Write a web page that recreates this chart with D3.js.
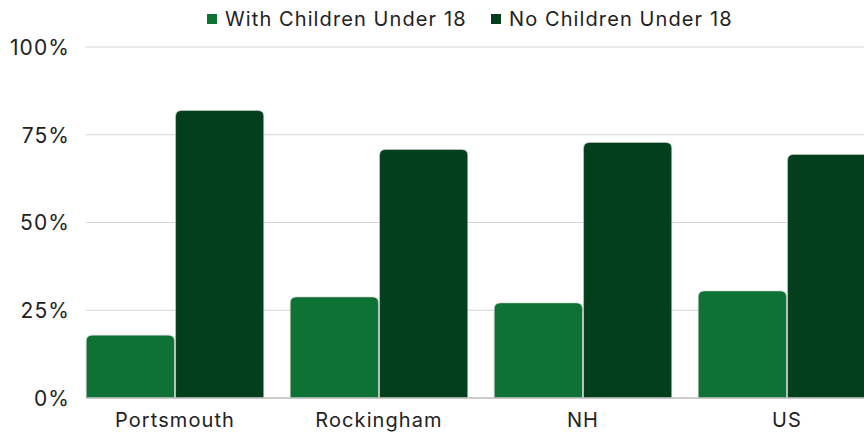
<!DOCTYPE html>
<html>
<head>
<meta charset="utf-8">
<script src="https://cdn.jsdelivr.net/npm/d3@7"></script>
<style>
  body { margin: 0; background: #fff; }
  svg text { font-family: "Inter", "Open Sans", sans-serif; fill: #222; letter-spacing: 1.1px; }
</style>
</head>
<body>
<svg id="chart" width="864" height="434"></svg>
<script>
// ---- data ----
var categories = ["Portsmouth", "Rockingham", "NH", "US"];
var seriesNames = ["With Children Under 18", "No Children Under 18"];
var withChildren = [17.9, 28.8, 27.1, 30.5];
var noChildren = [81.9, 70.8, 72.8, 69.4];
var yTicks = [0, 25, 50, 75, 100];
var colors = ["#0e7235", "#043f1d"];

var svg = d3.select("#chart"),
    width = +svg.attr("width"),
    height = +svg.attr("height");

var rows = categories.map(function (c, i) {
  return { cat: c, values: [withChildren[i], noChildren[i]] };
});

var y = d3.scaleLinear().domain([0, 100]).range([398, 47]);

var x0 = d3.scaleBand()
    .domain(categories)
    .range([73, 889])
    .paddingInner(0.13)
    .paddingOuter(0.065);

var x1 = d3.scaleBand()
    .domain(d3.range(seriesNames.length))
    .range([0, x0.bandwidth()])
    .paddingInner(0.012);

// gridlines
svg.append("g")
  .selectAll("line")
  .data(yTicks.filter(function (d) { return d > 0; }))
  .join("line")
    .attr("x1", 86).attr("x2", width)
    .attr("y1", function (d) { return y(d); })
    .attr("y2", function (d) { return y(d); })
    .attr("stroke", "#d4d4d4")
    .attr("stroke-width", 1);

// y axis labels
var yAxis = d3.axisLeft(y)
    .tickValues(yTicks)
    .tickFormat(function (d) { return d + "%"; })
    .tickSize(0)
    .tickPadding(0);

svg.append("g")
    .attr("transform", "translate(70,0)")
    .call(yAxis)
    .call(function (g) { g.select(".domain").remove(); })
    .selectAll("text")
      .attr("font-size", 21)
      .attr("dy", "0.35em")
      .style("font-family", "Inter, 'Open Sans', sans-serif")
      .attr("fill", "#222");

// rounded-top bar path
function barPath(x, yTop, w, h, r) {
  r = Math.min(r, h, w / 2);
  return "M" + x + "," + (yTop + h) +
    "V" + (yTop + r) +
    "Q" + x + "," + yTop + " " + (x + r) + "," + yTop +
    "H" + (x + w - r) +
    "Q" + (x + w) + "," + yTop + " " + (x + w) + "," + (yTop + r) +
    "V" + (yTop + h) + "Z";
}

var groups = svg.append("g")
  .selectAll("g")
  .data(rows)
  .join("g")
    .attr("transform", function (d) { return "translate(" + x0(d.cat) + ",0)"; });

groups.selectAll("path")
  .data(function (d) { return d.values.map(function (v, i) { return { v: v, i: i }; }); })
  .join("path")
    .attr("d", function (d) {
      var top = y(d.v);
      return barPath(x1(d.i), top, x1.bandwidth(), y(0) - top, 6);
    })
    .attr("fill", function (d) { return colors[d.i]; })
    .attr("stroke", "#cfcfcf")
    .attr("stroke-width", 0.6);

// baseline
svg.append("line")
    .attr("x1", 86).attr("x2", width)
    .attr("y1", y(0)).attr("y2", y(0))
    .attr("stroke", "#bdbdbd")
    .attr("stroke-width", 1.5);

// x axis labels
var xAxis = d3.axisBottom(x0).tickSize(0).tickPadding(0);
svg.append("g")
    .attr("transform", "translate(0,413)")
    .call(xAxis)
    .call(function (g) { g.select(".domain").remove(); })
    .selectAll("text")
      .attr("font-size", 20)
      .attr("dy", "0.7em")
      .style("font-family", "Inter, 'Open Sans', sans-serif")
      .attr("fill", "#222");

// legend
var legendX = [207, 491];
var legend = svg.append("g")
  .selectAll("g")
  .data(seriesNames)
  .join("g")
    .attr("transform", function (d, i) { return "translate(" + legendX[i] + ",19)"; });

legend.append("rect")
    .attr("x", 0).attr("y", -5)
    .attr("width", 10).attr("height", 10)
    .attr("fill", function (d, i) { return colors[i]; });

legend.append("text")
    .attr("x", 18)
    .attr("dy", "0.35em")
    .attr("font-size", 20)
    .text(function (d) { return d; });
</script>
</body>
</html>
